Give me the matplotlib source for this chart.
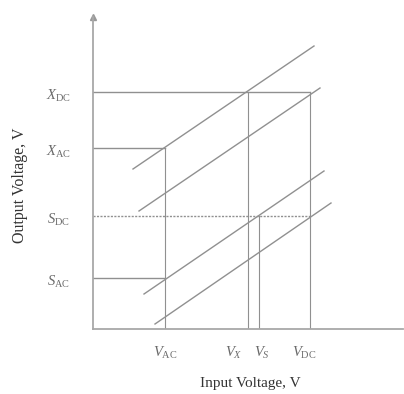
import matplotlib
matplotlib.use("Agg")
import matplotlib.pyplot as plt

plt.rcParams['mathtext.fontset'] = 'custom'
plt.rcParams['mathtext.rm'] = 'Liberation Serif'
plt.rcParams['mathtext.it'] = 'Liberation Serif:italic'
plt.rcParams['font.family'] = ['Liberation Serif', 'DejaVu Serif']

# Levels (arbitrary units)
y_names = ["X_DC", "X_AC", "S_DC", "S_AC"]
y_levels = [23.7, 18.1, 11.3, 5.1]
y_labels = [r"$X_{\mathrm{DC}}$", r"$X_{\mathrm{AC}}$", r"$S_{\mathrm{DC}}$", r"$S_{\mathrm{AC}}$"]
y_line_ends = [21.7, 7.2, 21.7, 7.2]          # x where each horizontal stops
y_line_dashed = [False, False, True, False]

x_names = ["V_AC", "V_X", "V_S", "V_DC"]
x_levels = [7.2, 15.5, 16.6, 21.7]
x_labels = [r"$V_{\mathrm{AC}}$", r"$V_{X}$", r"$V_{S}$", r"$V_{\mathrm{DC}}$"]
x_line_tops = [18.1, 23.7, 11.3, 23.7]        # y where each vertical stops
x_label_shift = [0.0, -1.4, 0.3, -0.6]

# Transfer characteristic lines (start/end points)
diag_x0 = [4.0, 4.6, 5.1, 6.2]
diag_y0 = [16.0, 11.8, 3.5, 0.5]
diag_x1 = [22.1, 22.7, 23.1, 23.8]
diag_y1 = [28.3, 24.1, 15.8, 12.6]

W, H = 404, 394
fig = plt.figure(figsize=(W / 100, H / 100), dpi=100)
left, bottom, right, top = 93, 329, 403, 17
ax = fig.add_axes([left / W, (H - bottom) / H, (right - left) / W, (bottom - top) / H])
xmax, ymax = (right - left) / 10, (bottom - top) / 10
ax.set_xlim(0, xmax)
ax.set_ylim(0, ymax)

axis_col = "#a8a8a8"
line_col = "#909090"
for s in ["top", "right"]:
    ax.spines[s].set_visible(False)
for s in ["left", "bottom"]:
    ax.spines[s].set_color(axis_col)
    ax.spines[s].set_linewidth(1.3)
ax.set_xticks([])
ax.set_yticks([])
ax.plot([0], [ymax], marker="^", color="#999999", markersize=4, clip_on=False)

for lvl, xe, dash in zip(y_levels, y_line_ends, y_line_dashed):
    ax.plot([0, xe], [lvl, lvl], color=line_col, lw=1.0, ls=(0, (1.5, 1)) if dash else "-")
for lvl, yt in zip(x_levels, x_line_tops):
    ax.plot([lvl, lvl], [0, yt], color=line_col, lw=0.8)
for x0, y0, x1, y1 in zip(diag_x0, diag_y0, diag_x1, diag_y1):
    ax.plot([x0, x1], [y0, y1], color=line_col, lw=1.0)

for lvl, lab in zip(y_levels, y_labels):
    ax.text(-3.5, lvl - 0.4, lab, ha="center", va="center", fontsize=10.5, color="#6a6a6a")
for lvl, lab, sh in zip(x_levels, x_labels, x_label_shift):
    ax.text(lvl + sh, -2.4, lab, ha="center", va="center", fontsize=10.5, color="#6a6a6a")

fig.text(20 / W, 1 - 185 / H, "Output Voltage, V", rotation=90, ha="center", va="center",
         fontsize=11.5, color="#333333")
fig.text(250 / W, 1 - 384 / H, "Input Voltage, V", ha="center", va="center",
         fontsize=11, color="#333333")

fig.savefig("out.png", dpi=100)
